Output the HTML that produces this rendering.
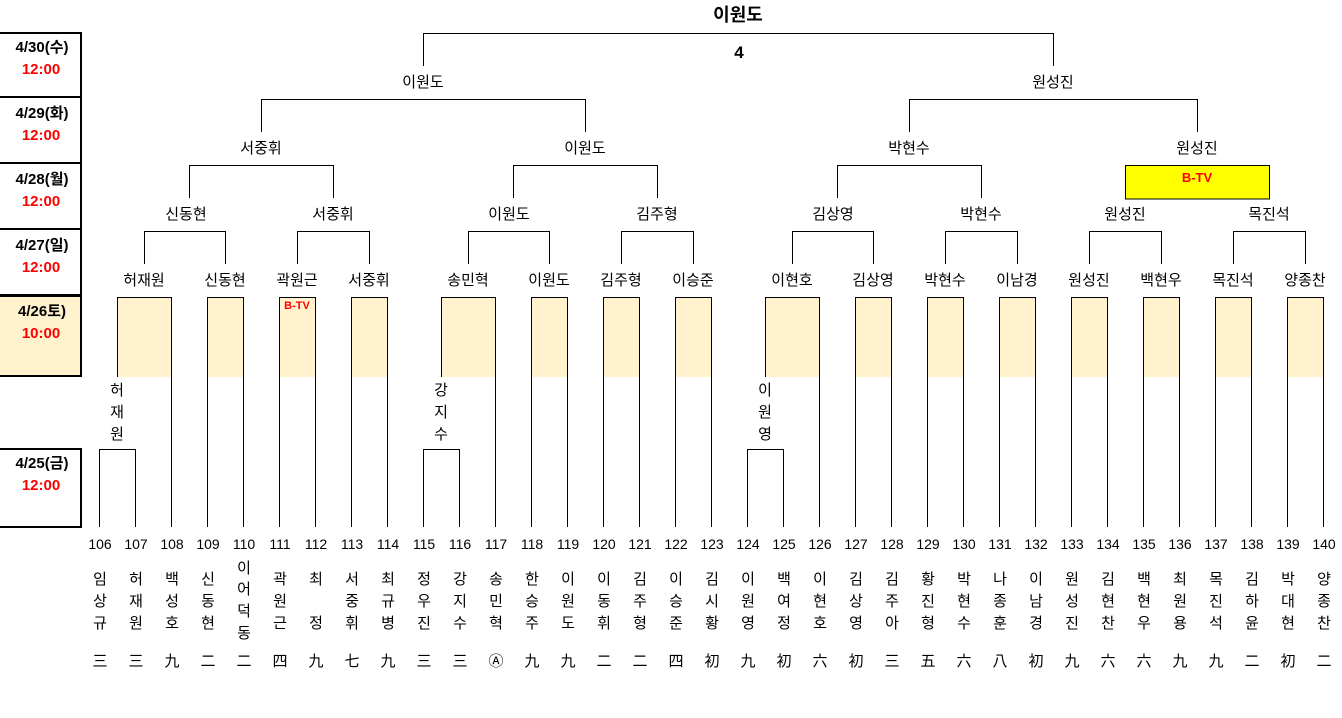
<!DOCTYPE html>
<html><head><meta charset="utf-8"><style>
body{margin:0;background:#fff;width:1342px;height:718px;overflow:hidden}
svg{position:absolute;left:0;top:0}
text{font-family:"Liberation Sans","Noto Sans CJK KR",sans-serif;font-size:15px;text-anchor:middle;fill:#000}
.n{font-size:14px}
.b{font-weight:bold}
.r{fill:#f00;font-weight:bold}
</style></head><body>
<svg width="1342" height="718" viewBox="0 0 1342 718">
<g stroke="#000" stroke-width="2" fill="none">
<path d="M0 33H81V97H0M81 97V163H0M81 163V229H0M81 229V295H0"/>
<rect x="-2" y="296" width="83" height="80" fill="#fff2cc"/>
<rect x="-2" y="449" width="83" height="78"/>
</g>
<g>
<text x="42" y="52" class="b">4/30(수)</text><text x="41" y="74" class="r">12:00</text>
<text x="42" y="118" class="b">4/29(화)</text><text x="41" y="140" class="r">12:00</text>
<text x="42" y="184" class="b">4/28(월)</text><text x="41" y="206" class="r">12:00</text>
<text x="42" y="250" class="b">4/27(일)</text><text x="41" y="272" class="r">12:00</text>
<text x="42" y="316" class="b">4/26토)</text><text x="41" y="338" class="r">10:00</text>
<text x="42" y="468" class="b">4/25(금)</text><text x="41" y="490" class="r">12:00</text>
</g>
<g fill="#fff2cc" stroke="none">
<rect x="117.5" y="297.5" width="54" height="79.5"/><rect x="207.5" y="297.5" width="36" height="79.5"/>
<rect x="279.5" y="297.5" width="36" height="79.5"/><rect x="351.5" y="297.5" width="36" height="79.5"/>
<rect x="441.5" y="297.5" width="54" height="79.5"/><rect x="531.5" y="297.5" width="36" height="79.5"/>
<rect x="603.5" y="297.5" width="36" height="79.5"/><rect x="675.5" y="297.5" width="36" height="79.5"/>
<rect x="765.5" y="297.5" width="54" height="79.5"/><rect x="855.5" y="297.5" width="36" height="79.5"/>
<rect x="927.5" y="297.5" width="36" height="79.5"/><rect x="999.5" y="297.5" width="36" height="79.5"/>
<rect x="1071.5" y="297.5" width="36" height="79.5"/><rect x="1143.5" y="297.5" width="36" height="79.5"/>
<rect x="1215.5" y="297.5" width="36" height="79.5"/><rect x="1287.5" y="297.5" width="36" height="79.5"/>
</g>
<rect x="1125.5" y="165.5" width="144" height="33.5" fill="#ff0" stroke="#000"/>
<g stroke="#000" stroke-width="1" fill="none">
<path d="M99.5 527V449.5H135.5V527M423.5 527V449.5H459.5V527M747.5 527V449.5H783.5V527"/>
<path d="M117.5 377V297.5H171.5V527M441.5 377V297.5H495.5V527M765.5 377V297.5H819.5V527"/>
<path d="M207.5 527V297.5H243.5V527M279.5 527V297.5H315.5V527M351.5 527V297.5H387.5V527"/>
<path d="M531.5 527V297.5H567.5V527M603.5 527V297.5H639.5V527M675.5 527V297.5H711.5V527"/>
<path d="M855.5 527V297.5H891.5V527M927.5 527V297.5H963.5V527M999.5 527V297.5H1035.5V527"/>
<path d="M1071.5 527V297.5H1107.5V527M1143.5 527V297.5H1179.5V527M1215.5 527V297.5H1251.5V527M1287.5 527V297.5H1323.5V527"/>
<path d="M144.5 264V231.5H225.5V264M297.5 264V231.5H369.5V264M468.5 264V231.5H549.5V264M621.5 264V231.5H693.5V264"/>
<path d="M792.5 264V231.5H873.5V264M945.5 264V231.5H1017.5V264M1089.5 264V231.5H1161.5V264M1233.5 264V231.5H1305.5V264"/>
<path d="M189.5 198V165.5H333.5V198M513.5 198V165.5H657.5V198M837.5 198V165.5H981.5V198"/>
<path d="M261.5 132V99.5H585.5V132M909.5 132V99.5H1197.5V132"/>
<path d="M423.5 66V33.5H1053.5V66"/>
</g>
<text x="738" y="21" class="b" style="font-size:18px">이원도</text>
<text x="739" y="58" class="b" style="font-size:17px">4</text>
<text x="423" y="87">이원도</text><text x="1053" y="87">원성진</text>
<text x="261" y="153">서중휘</text><text x="585" y="153">이원도</text><text x="909" y="153">박현수</text><text x="1197" y="153">원성진</text>
<text x="1197" y="182" class="r" style="font-size:13px">B-TV</text>
<text x="186" y="219">신동현</text><text x="333" y="219">서중휘</text><text x="509" y="219">이원도</text><text x="657" y="219">김주형</text>
<text x="833" y="219">김상영</text><text x="981" y="219">박현수</text><text x="1125" y="219">원성진</text><text x="1269" y="219">목진석</text>
<text x="144" y="285">허재원</text><text x="225" y="285">신동현</text><text x="297" y="285">곽원근</text><text x="369" y="285">서중휘</text>
<text x="468" y="285">송민혁</text><text x="549" y="285">이원도</text><text x="621" y="285">김주형</text><text x="693" y="285">이승준</text>
<text x="792" y="285">이현호</text><text x="873" y="285">김상영</text><text x="945" y="285">박현수</text><text x="1017" y="285">이남경</text>
<text x="1089" y="285">원성진</text><text x="1161" y="285">백현우</text><text x="1233" y="285">목진석</text><text x="1305" y="285">양종찬</text>
<text x="297" y="309" class="r" style="font-size:11px">B-TV</text>
<text x="117" y="395">허</text><text x="117" y="417">재</text><text x="117" y="439">원</text>
<text x="441" y="395">강</text><text x="441" y="417">지</text><text x="441" y="439">수</text>
<text x="765" y="395">이</text><text x="765" y="417">원</text><text x="765" y="439">영</text>
<g class="n">
<text class="n" x="100" y="549">106</text><text class="n" x="136" y="549">107</text><text class="n" x="172" y="549">108</text><text class="n" x="208" y="549">109</text><text class="n" x="244" y="549">110</text>
<text class="n" x="280" y="549">111</text><text class="n" x="316" y="549">112</text><text class="n" x="352" y="549">113</text><text class="n" x="388" y="549">114</text><text class="n" x="424" y="549">115</text>
<text class="n" x="460" y="549">116</text><text class="n" x="496" y="549">117</text><text class="n" x="532" y="549">118</text><text class="n" x="568" y="549">119</text><text class="n" x="604" y="549">120</text>
<text class="n" x="640" y="549">121</text><text class="n" x="676" y="549">122</text><text class="n" x="712" y="549">123</text><text class="n" x="748" y="549">124</text><text class="n" x="784" y="549">125</text>
<text class="n" x="820" y="549">126</text><text class="n" x="856" y="549">127</text><text class="n" x="892" y="549">128</text><text class="n" x="928" y="549">129</text><text class="n" x="964" y="549">130</text>
<text class="n" x="1000" y="549">131</text><text class="n" x="1036" y="549">132</text><text class="n" x="1072" y="549">133</text><text class="n" x="1108" y="549">134</text><text class="n" x="1144" y="549">135</text>
<text class="n" x="1180" y="549">136</text><text class="n" x="1216" y="549">137</text><text class="n" x="1252" y="549">138</text><text class="n" x="1288" y="549">139</text><text class="n" x="1324" y="549">140</text>
</g>
<g>
<text x="100" y="584">임</text><text x="100" y="606">상</text><text x="100" y="628">규</text>
<text x="136" y="584">허</text><text x="136" y="606">재</text><text x="136" y="628">원</text>
<text x="172" y="584">백</text><text x="172" y="606">성</text><text x="172" y="628">호</text>
<text x="208" y="584">신</text><text x="208" y="606">동</text><text x="208" y="628">현</text>
<text x="244" y="573">이</text><text x="244" y="594">어</text><text x="244" y="616">덕</text><text x="244" y="638">동</text>
<text x="280" y="584">곽</text><text x="280" y="606">원</text><text x="280" y="628">근</text>
<text x="316" y="584">최</text><text x="316" y="628">정</text>
<text x="352" y="584">서</text><text x="352" y="606">중</text><text x="352" y="628">휘</text>
<text x="388" y="584">최</text><text x="388" y="606">규</text><text x="388" y="628">병</text>
<text x="424" y="584">정</text><text x="424" y="606">우</text><text x="424" y="628">진</text>
<text x="460" y="584">강</text><text x="460" y="606">지</text><text x="460" y="628">수</text>
<text x="496" y="584">송</text><text x="496" y="606">민</text><text x="496" y="628">혁</text>
<text x="532" y="584">한</text><text x="532" y="606">승</text><text x="532" y="628">주</text>
<text x="568" y="584">이</text><text x="568" y="606">원</text><text x="568" y="628">도</text>
<text x="604" y="584">이</text><text x="604" y="606">동</text><text x="604" y="628">휘</text>
<text x="640" y="584">김</text><text x="640" y="606">주</text><text x="640" y="628">형</text>
<text x="676" y="584">이</text><text x="676" y="606">승</text><text x="676" y="628">준</text>
<text x="712" y="584">김</text><text x="712" y="606">시</text><text x="712" y="628">황</text>
<text x="748" y="584">이</text><text x="748" y="606">원</text><text x="748" y="628">영</text>
<text x="784" y="584">백</text><text x="784" y="606">여</text><text x="784" y="628">정</text>
<text x="820" y="584">이</text><text x="820" y="606">현</text><text x="820" y="628">호</text>
<text x="856" y="584">김</text><text x="856" y="606">상</text><text x="856" y="628">영</text>
<text x="892" y="584">김</text><text x="892" y="606">주</text><text x="892" y="628">아</text>
<text x="928" y="584">황</text><text x="928" y="606">진</text><text x="928" y="628">형</text>
<text x="964" y="584">박</text><text x="964" y="606">현</text><text x="964" y="628">수</text>
<text x="1000" y="584">나</text><text x="1000" y="606">종</text><text x="1000" y="628">훈</text>
<text x="1036" y="584">이</text><text x="1036" y="606">남</text><text x="1036" y="628">경</text>
<text x="1072" y="584">원</text><text x="1072" y="606">성</text><text x="1072" y="628">진</text>
<text x="1108" y="584">김</text><text x="1108" y="606">현</text><text x="1108" y="628">찬</text>
<text x="1144" y="584">백</text><text x="1144" y="606">현</text><text x="1144" y="628">우</text>
<text x="1180" y="584">최</text><text x="1180" y="606">원</text><text x="1180" y="628">용</text>
<text x="1216" y="584">목</text><text x="1216" y="606">진</text><text x="1216" y="628">석</text>
<text x="1252" y="584">김</text><text x="1252" y="606">하</text><text x="1252" y="628">윤</text>
<text x="1288" y="584">박</text><text x="1288" y="606">대</text><text x="1288" y="628">현</text>
<text x="1324" y="584">양</text><text x="1324" y="606">종</text><text x="1324" y="628">찬</text>
</g>
<g>
<text x="100" y="666">三</text><text x="136" y="666">三</text><text x="172" y="666">九</text><text x="208" y="666">二</text><text x="244" y="666">二</text>
<text x="280" y="666">四</text><text x="316" y="666">九</text><text x="352" y="666">七</text><text x="388" y="666">九</text><text x="424" y="666">三</text>
<text x="460" y="666">三</text><text x="496" y="666">Ⓐ</text><text x="532" y="666">九</text><text x="568" y="666">九</text><text x="604" y="666">二</text>
<text x="640" y="666">二</text><text x="676" y="666">四</text><text x="712" y="666">初</text><text x="748" y="666">九</text><text x="784" y="666">初</text>
<text x="820" y="666">六</text><text x="856" y="666">初</text><text x="892" y="666">三</text><text x="928" y="666">五</text><text x="964" y="666">六</text>
<text x="1000" y="666">八</text><text x="1036" y="666">初</text><text x="1072" y="666">九</text><text x="1108" y="666">六</text><text x="1144" y="666">六</text>
<text x="1180" y="666">九</text><text x="1216" y="666">九</text><text x="1252" y="666">二</text><text x="1288" y="666">初</text><text x="1324" y="666">二</text>
</g>
</svg>
</body></html>
